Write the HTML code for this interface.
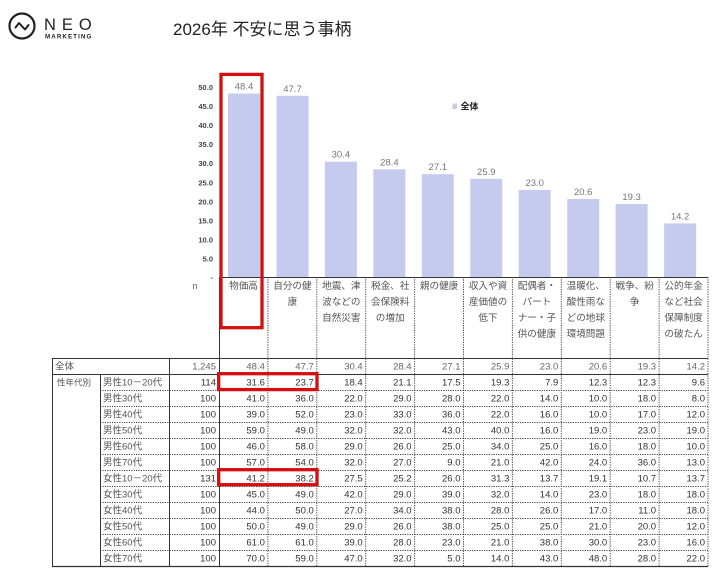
<!DOCTYPE html>
<html><head><meta charset="utf-8"><style>
html,body{margin:0;padding:0;background:#fff;}
svg{display:block;font-family:"Liberation Sans","Noto Sans CJK JP",sans-serif;}
.v{font-size:9.5px;fill:#777;text-anchor:middle;}
.yt{font-size:7.5px;font-weight:bold;fill:#444;text-anchor:end;}
.cat{font-size:9.6px;fill:#555;text-anchor:middle;}
.n{font-size:9.5px;fill:#333;text-anchor:end;}
.n0{font-size:9.5px;fill:#666;text-anchor:end;}
.lb{font-size:9.5px;fill:#555;}
</style></head><body>
<svg width="722" height="575" viewBox="0 0 722 575" xmlns="http://www.w3.org/2000/svg">
<!-- logo -->
<circle cx="22" cy="26" r="12.5" fill="none" stroke="#222" stroke-width="2.2"/>
<path d="M15.5 27.5 L19 23 L25 29.5 L28.5 25" fill="none" stroke="#222" stroke-width="2" stroke-linecap="round" stroke-linejoin="round"/>
<text x="44" y="30" font-size="16.5" fill="#222" letter-spacing="6">NEO</text>
<text x="45" y="38.5" font-size="6.2" font-weight="bold" fill="#222" letter-spacing="1.1">MARKETING</text>
<!-- title -->
<text x="173" y="35" font-size="17" fill="#222">2026年 不安に思う事柄</text>

<!-- y axis labels -->
<g class="yt">
<text x="213" y="90">50.0</text>
<text x="213" y="109">45.0</text>
<text x="213" y="128">40.0</text>
<text x="213" y="147.2">35.0</text>
<text x="213" y="166.2">30.0</text>
<text x="213" y="185.3">25.0</text>
<text x="213" y="204.3">20.0</text>
<text x="213" y="223.4">15.0</text>
<text x="213" y="242.4">10.0</text>
<text x="213" y="261.5">5.0</text>
<text x="213" y="280">-</text>
</g>

<!-- bars -->
<g fill="#c5cbef">
<rect x="228" y="93.6" width="32" height="183.9"/>
<rect x="276.5" y="95.8" width="32" height="181.7"/>
<rect x="324.9" y="161.7" width="32" height="115.8"/>
<rect x="373.4" y="169.3" width="32" height="108.2"/>
<rect x="421.8" y="174.2" width="32" height="103.3"/>
<rect x="470.3" y="178.8" width="32" height="98.7"/>
<rect x="518.7" y="189.9" width="32" height="87.6"/>
<rect x="567.2" y="199" width="32" height="78.5"/>
<rect x="615.6" y="204" width="32" height="73.5"/>
<rect x="664.1" y="223.4" width="32" height="54.1"/>
</g>
<g class="v">
<text x="244" y="89.6">48.4</text>
<text x="292.5" y="91.8">47.7</text>
<text x="340.9" y="157.7">30.4</text>
<text x="389.4" y="165.3">28.4</text>
<text x="437.8" y="170.2">27.1</text>
<text x="486.3" y="174.8">25.9</text>
<text x="534.7" y="185.9">23.0</text>
<text x="583.2" y="195">20.6</text>
<text x="631.6" y="200">19.3</text>
<text x="680.1" y="219.4">14.2</text>
</g>

<!-- legend -->
<rect x="452.5" y="103.5" width="4.5" height="5.5" fill="#c5cbef"/>
<text x="460.5" y="109.5" font-size="9" font-weight="bold" fill="#222">全体</text>

<!-- header -->
<text x="195" y="289" font-size="9" fill="#555" text-anchor="middle">n</text>
<g class="cat">
<text x="243.5" y="289">物価高</text>
<text x="292.4" y="289">自分の健</text><text x="292.4" y="305">康</text>
<text x="341.3" y="289">地震、津</text><text x="341.3" y="305">波などの</text><text x="341.3" y="321">自然災害</text>
<text x="390.2" y="289">税金、社</text><text x="390.2" y="305">会保険料</text><text x="390.2" y="321">の増加</text>
<text x="439.1" y="289">親の健康</text>
<text x="488" y="289">収入や資</text><text x="488" y="305">産価値の</text><text x="488" y="321">低下</text>
<text x="536.9" y="289">配偶者・</text><text x="536.9" y="305">パート</text><text x="536.9" y="321">ナー・子</text><text x="536.9" y="337">供の健康</text>
<text x="585.8" y="289">温暖化、</text><text x="585.8" y="305">酸性雨な</text><text x="585.8" y="321">どの地球</text><text x="585.8" y="337">環境問題</text>
<text x="634.7" y="289">戦争、紛</text><text x="634.7" y="305">争</text>
<text x="683.6" y="289">公的年金</text><text x="683.6" y="305">など社会</text><text x="683.6" y="321">保障制度</text><text x="683.6" y="337">の破たん</text>
</g>

<!-- table lines -->
<g stroke="#333" stroke-width="1" fill="none">
<line x1="219" y1="277.5" x2="708" y2="277.5"/>
<line x1="52" y1="358.5" x2="708" y2="358.5"/>
<line x1="52" y1="374.5" x2="708" y2="374.5"/>
<line x1="52" y1="566.5" x2="708" y2="566.5" stroke-width="1.3"/>
<line x1="52.5" y1="358" x2="52.5" y2="567"/>
<line x1="100.5" y1="374" x2="100.5" y2="567"/>
<line x1="169.5" y1="358" x2="169.5" y2="567"/>
<line x1="219.5" y1="277" x2="219.5" y2="567"/>
</g>
<g stroke="#444" stroke-width="1" fill="none" stroke-dasharray="1.2 1.2">
<line x1="267.9" y1="277" x2="267.9" y2="566"/>
<line x1="316.8" y1="277" x2="316.8" y2="566"/>
<line x1="365.7" y1="277" x2="365.7" y2="566"/>
<line x1="414.6" y1="277" x2="414.6" y2="566"/>
<line x1="463.5" y1="277" x2="463.5" y2="566"/>
<line x1="512.4" y1="277" x2="512.4" y2="566"/>
<line x1="561.3" y1="277" x2="561.3" y2="566"/>
<line x1="610.2" y1="277" x2="610.2" y2="566"/>
<line x1="659.1" y1="277" x2="659.1" y2="566"/>
<line x1="708" y1="277" x2="708" y2="566"/>
<line x1="100" y1="390.5" x2="708" y2="390.5"/>
<line x1="100" y1="406.5" x2="708" y2="406.5"/>
<line x1="100" y1="422.5" x2="708" y2="422.5"/>
<line x1="100" y1="438.5" x2="708" y2="438.5"/>
<line x1="100" y1="454.5" x2="708" y2="454.5"/>
<line x1="100" y1="470.5" x2="708" y2="470.5"/>
<line x1="100" y1="486.5" x2="708" y2="486.5"/>
<line x1="100" y1="502.5" x2="708" y2="502.5"/>
<line x1="100" y1="518.5" x2="708" y2="518.5"/>
<line x1="100" y1="534.5" x2="708" y2="534.5"/>
<line x1="100" y1="550.5" x2="708" y2="550.5"/>
</g>

<!-- row labels -->
<text x="55" y="369.5" class="lb">全体</text>
<text x="57" y="385.5" font-size="8.5" fill="#555">性年代別</text>
<g class="lb" font-size="9">
<text x="103" y="385.5">男性10－20代</text>
<text x="103" y="401.5">男性30代</text>
<text x="103" y="417.5">男性40代</text>
<text x="103" y="433.5">男性50代</text>
<text x="103" y="449.5">男性60代</text>
<text x="103" y="465.5">男性70代</text>
<text x="103" y="481.5">女性10－20代</text>
<text x="103" y="497.5">女性30代</text>
<text x="103" y="513.5">女性40代</text>
<text x="103" y="529.5">女性50代</text>
<text x="103" y="545.5">女性60代</text>
<text x="103" y="561.5">女性70代</text>
</g>

<!-- 全体 row -->
<g class="n0" transform="translate(0,369.5)">
<text x="216">1,245</text><text x="264.9">48.4</text><text x="313.8">47.7</text><text x="362.7">30.4</text><text x="411.6">28.4</text><text x="460.5">27.1</text><text x="509.4">25.9</text><text x="558.3">23.0</text><text x="607.2">20.6</text><text x="656.1">19.3</text><text x="705">14.2</text>
</g>
<g class="n" transform="translate(0,385.5)">
<text x="216">114</text><text x="264.9">31.6</text><text x="313.8">23.7</text><text x="362.7">18.4</text><text x="411.6">21.1</text><text x="460.5">17.5</text><text x="509.4">19.3</text><text x="558.3">7.9</text><text x="607.2">12.3</text><text x="656.1">12.3</text><text x="705">9.6</text>
</g>
<g class="n" transform="translate(0,401.5)">
<text x="216">100</text><text x="264.9">41.0</text><text x="313.8">36.0</text><text x="362.7">22.0</text><text x="411.6">29.0</text><text x="460.5">28.0</text><text x="509.4">22.0</text><text x="558.3">14.0</text><text x="607.2">10.0</text><text x="656.1">18.0</text><text x="705">8.0</text>
</g>
<g class="n" transform="translate(0,417.5)">
<text x="216">100</text><text x="264.9">39.0</text><text x="313.8">52.0</text><text x="362.7">23.0</text><text x="411.6">33.0</text><text x="460.5">36.0</text><text x="509.4">22.0</text><text x="558.3">16.0</text><text x="607.2">10.0</text><text x="656.1">17.0</text><text x="705">12.0</text>
</g>
<g class="n" transform="translate(0,433.5)">
<text x="216">100</text><text x="264.9">59.0</text><text x="313.8">49.0</text><text x="362.7">32.0</text><text x="411.6">32.0</text><text x="460.5">43.0</text><text x="509.4">40.0</text><text x="558.3">16.0</text><text x="607.2">19.0</text><text x="656.1">23.0</text><text x="705">19.0</text>
</g>
<g class="n" transform="translate(0,449.5)">
<text x="216">100</text><text x="264.9">46.0</text><text x="313.8">58.0</text><text x="362.7">29.0</text><text x="411.6">26.0</text><text x="460.5">25.0</text><text x="509.4">34.0</text><text x="558.3">25.0</text><text x="607.2">16.0</text><text x="656.1">18.0</text><text x="705">10.0</text>
</g>
<g class="n" transform="translate(0,465.5)">
<text x="216">100</text><text x="264.9">57.0</text><text x="313.8">54.0</text><text x="362.7">32.0</text><text x="411.6">27.0</text><text x="460.5">9.0</text><text x="509.4">21.0</text><text x="558.3">42.0</text><text x="607.2">24.0</text><text x="656.1">36.0</text><text x="705">13.0</text>
</g>
<g class="n" transform="translate(0,481.5)">
<text x="216">131</text><text x="264.9">41.2</text><text x="313.8">38.2</text><text x="362.7">27.5</text><text x="411.6">25.2</text><text x="460.5">26.0</text><text x="509.4">31.3</text><text x="558.3">13.7</text><text x="607.2">19.1</text><text x="656.1">10.7</text><text x="705">13.7</text>
</g>
<g class="n" transform="translate(0,497.5)">
<text x="216">100</text><text x="264.9">45.0</text><text x="313.8">49.0</text><text x="362.7">42.0</text><text x="411.6">29.0</text><text x="460.5">39.0</text><text x="509.4">32.0</text><text x="558.3">14.0</text><text x="607.2">23.0</text><text x="656.1">18.0</text><text x="705">18.0</text>
</g>
<g class="n" transform="translate(0,513.5)">
<text x="216">100</text><text x="264.9">44.0</text><text x="313.8">50.0</text><text x="362.7">27.0</text><text x="411.6">34.0</text><text x="460.5">38.0</text><text x="509.4">28.0</text><text x="558.3">26.0</text><text x="607.2">17.0</text><text x="656.1">11.0</text><text x="705">18.0</text>
</g>
<g class="n" transform="translate(0,529.5)">
<text x="216">100</text><text x="264.9">50.0</text><text x="313.8">49.0</text><text x="362.7">29.0</text><text x="411.6">26.0</text><text x="460.5">38.0</text><text x="509.4">25.0</text><text x="558.3">25.0</text><text x="607.2">21.0</text><text x="656.1">20.0</text><text x="705">12.0</text>
</g>
<g class="n" transform="translate(0,545.5)">
<text x="216">100</text><text x="264.9">61.0</text><text x="313.8">61.0</text><text x="362.7">39.0</text><text x="411.6">28.0</text><text x="460.5">23.0</text><text x="509.4">21.0</text><text x="558.3">38.0</text><text x="607.2">30.0</text><text x="656.1">23.0</text><text x="705">16.0</text>
</g>
<g class="n" transform="translate(0,561.5)">
<text x="216">100</text><text x="264.9">70.0</text><text x="313.8">59.0</text><text x="362.7">47.0</text><text x="411.6">32.0</text><text x="460.5">5.0</text><text x="509.4">14.0</text><text x="558.3">43.0</text><text x="607.2">48.0</text><text x="656.1">28.0</text><text x="705">22.0</text>
</g>

<!-- red highlight boxes -->
<g fill="none" stroke="#d40f0f" stroke-width="3.3">
<rect x="221" y="74.4" width="41" height="253.3"/>
<rect x="218.7" y="373.7" width="98.3" height="15.9"/>
<rect x="218.7" y="469.7" width="98.3" height="15"/>
</g>
</svg>
</body></html>
